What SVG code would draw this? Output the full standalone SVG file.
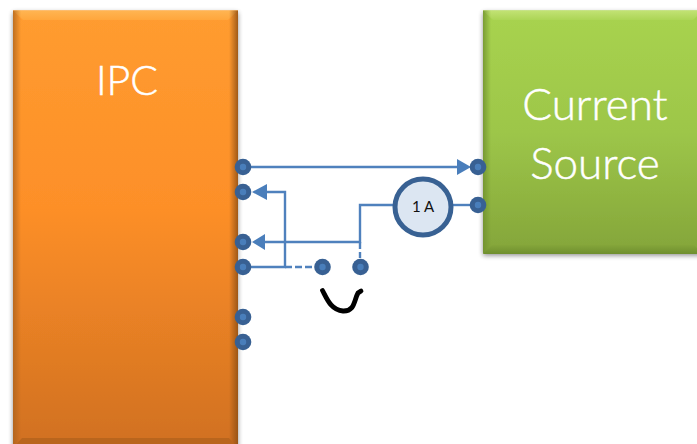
<svg xmlns="http://www.w3.org/2000/svg" width="697" height="444" viewBox="0 0 697 444">
<style>
.lbl{font-family:"Lato","Open Sans",sans-serif;font-weight:300;fill:#fff;stroke:#fff;stroke-width:.5px;text-anchor:middle;font-size:44px}
.wire{fill:none;stroke:#4f81bd;stroke-width:2.400}
.dash{stroke-dasharray:7 3}
.dot{fill:#386193}
.core{fill:#4a7ebb}
.head{fill:#4a7ebb}
</style>
<defs>
<linearGradient id="org" x1="0" y1="0" x2="0" y2="1"><stop offset="0" stop-color="#ff9c30"/><stop offset="0.45" stop-color="#fd8f28"/><stop offset="1" stop-color="#d07021"/></linearGradient>
<linearGradient id="grn" x1="0" y1="0" x2="0" y2="1"><stop offset="0" stop-color="#a8d34f"/><stop offset="0.5" stop-color="#9dc649"/><stop offset="1" stop-color="#84a53a"/></linearGradient>
<linearGradient id="orgT" x1="0" y1="0" x2="0" y2="1"><stop offset="0" stop-color="#ffb552"/><stop offset="1" stop-color="#ffa63c"/></linearGradient>
<linearGradient id="grnT" x1="0" y1="0" x2="0" y2="1"><stop offset="0" stop-color="#c2e274"/><stop offset="1" stop-color="#acd556"/></linearGradient>
<linearGradient id="orgL" x1="0" y1="0" x2="1" y2="0"><stop offset="0" stop-color="#a9611c" stop-opacity=".75"/><stop offset="1" stop-color="#a9611c" stop-opacity="0"/></linearGradient>
<linearGradient id="orgR" x1="0" y1="0" x2="1" y2="0"><stop offset="0" stop-color="#8f4f14" stop-opacity="0"/><stop offset="1" stop-color="#8f4f14" stop-opacity=".85"/></linearGradient>
<linearGradient id="grnL" x1="0" y1="0" x2="1" y2="0"><stop offset="0" stop-color="#6f8f2e" stop-opacity=".8"/><stop offset="1" stop-color="#6f8f2e" stop-opacity="0"/></linearGradient>
<linearGradient id="grnB" x1="0" y1="0" x2="0" y2="1"><stop offset="0" stop-color="#84a53a"/><stop offset="1" stop-color="#6f8f2e"/></linearGradient>
<filter id="sh" x="-10%" y="-10%" width="120%" height="120%"><feGaussianBlur in="SourceAlpha" stdDeviation="2.500"/><feOffset dx="0" dy="2"/><feComponentTransfer><feFuncA type="linear" slope=".45"/></feComponentTransfer><feMerge><feMergeNode/><feMergeNode in="SourceGraphic"/></feMerge></filter>
<filter id="soft" x="-20%" y="-20%" width="140%" height="140%"><feGaussianBlur stdDeviation="0.500"/></filter>
</defs>
<g id="ipc">
<rect x="13" y="10.500" width="225" height="438" fill="url(#org)" filter="url(#sh)"/>
<polygon points="13,10.500 238,10.500 228,20 23,20" fill="url(#orgT)"/>
<rect x="13" y="10.500" width="8" height="438" fill="url(#orgL)"/>
<rect x="229" y="10.500" width="9" height="438" fill="url(#orgR)"/>
<polygon points="13,448 238,448 229,438 22,438" fill="#b9651d"/>
<text class="lbl" x="127" y="95" style="font-size:41px">IPC</text>
</g>
<g id="source">
<rect x="483" y="10.500" width="220" height="243" fill="url(#grn)" filter="url(#sh)"/>
<polygon points="483,10.500 703,10.500 693,20 493,20" fill="url(#grnT)"/>
<rect x="483" y="10.500" width="8" height="243" fill="url(#grnL)"/>
<polygon points="483,254 703,254 694,245 492,245" fill="url(#grnB)"/>
<text class="lbl" x="595" y="120">Current</text>
<text class="lbl" x="595" y="179">Source</text>
</g>
<g id="connectors">
<path class="wire" d="M243 167H458"/>
<polygon class="head" points="471,167 457,159 457,175"/>
<path class="wire" d="M243 267H285V192H265"/>
<polygon class="head" points="252,192 267,184 267,200"/>
<path class="wire" d="M285 267H314" stroke-dasharray="7 3"/>
<path class="wire" d="M394 205H360V242H264"/>
<polygon class="head" points="252,242 265,234 265,250"/>
<path class="wire dash" d="M360 242V258"/>
<path class="wire" d="M451 205H478"/>
</g>
<g id="meter">
<circle cx="423" cy="207" r="28" fill="#dce6f2" stroke="#386193" stroke-width="5"/>
<text x="423" y="212" text-anchor="middle" font-family="Lato,'Open Sans',sans-serif" font-size="15" fill="#111">1 A</text>
</g>
<g id="terminals" filter="url(#soft)">
<g id="t1"><circle class="dot" cx="243" cy="167" r="8.300"/><circle class="core" cx="243" cy="167" r="3.200"/></g>
<g id="t2"><circle class="dot" cx="243" cy="192" r="8.300"/><circle class="core" cx="243" cy="192" r="3.200"/></g>
<g id="t3"><circle class="dot" cx="243" cy="242" r="8.300"/><circle class="core" cx="243" cy="242" r="3.200"/></g>
<g id="t4"><circle class="dot" cx="243" cy="267" r="8.300"/><circle class="core" cx="243" cy="267" r="3.200"/></g>
<g id="t5"><circle class="dot" cx="243" cy="317" r="8.300"/><circle class="core" cx="243" cy="317" r="3.200"/></g>
<g id="t6"><circle class="dot" cx="243" cy="342" r="8.300"/><circle class="core" cx="243" cy="342" r="3.200"/></g>
<g id="t7"><circle class="dot" cx="322.500" cy="267" r="8.300"/><circle class="core" cx="322.500" cy="267" r="3.200"/></g>
<g id="t8"><circle class="dot" cx="360.500" cy="267" r="8.300"/><circle class="core" cx="360.500" cy="267" r="3.200"/></g>
<g id="t9"><circle class="dot" cx="478" cy="167" r="8.300"/><circle class="core" cx="478" cy="167" r="3.200"/></g>
<g id="t10"><circle class="dot" cx="478" cy="205" r="8.300"/><circle class="core" cx="478" cy="205" r="3.200"/></g>
</g>
<path id="jumper" d="M322.500 290.500C327 299 331 310 343 311C355 311.500 354 300 358 293L361 291" fill="none" stroke="#000" stroke-width="4.800" stroke-linecap="round"/>
</svg>
